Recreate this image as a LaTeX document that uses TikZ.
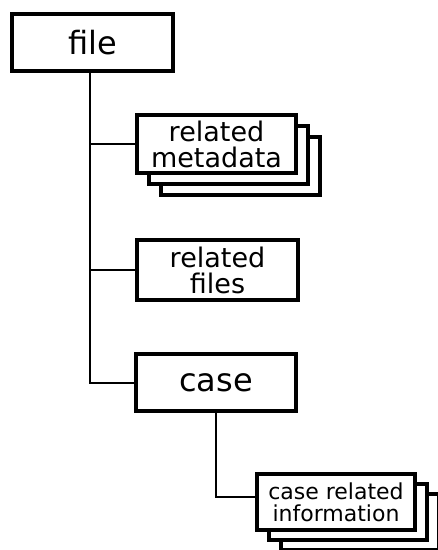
\documentclass[tikz,border=0pt]{standalone}
\usepackage{fontspec}
\setmainfont{DejaVu Sans}
\usepackage{tikz}

\begin{document}
\begin{tikzpicture}[x=1pt, y=-1pt,
		box/.style={draw, line width=4pt, fill=white, align=center, inner sep=0pt},
		link/.style={line width=2pt},
		bigtext/.style={font=\fontsize{32}{32}\selectfont},
		midtext/.style={font=\fontsize{27}{26}\selectfont},
		smalltext/.style={font=\fontsize{22}{22}\selectfont}]
		\useasboundingbox (0,0) rectangle (438,550);

		\node[box, bigtext, minimum width=161pt, minimum height=57pt] (file) at (92.5,42.5) {file};

		\node[box, minimum width=159pt, minimum height=58pt] (meta3) at (240.5,166) {};
		\node[box, minimum width=159pt, minimum height=58pt] (meta2) at (228.5,155) {};
		\node[box, midtext, minimum width=159pt, minimum height=58pt] (meta) at (216.5,144) {related\\metadata};

		\node[box, midtext, minimum width=161pt, minimum height=60pt] (files) at (217.5,270) {related\\files};

		\node[box, bigtext, minimum width=160pt, minimum height=57pt] (case) at (216,382.5) {case};

		\node[box, minimum width=158pt, minimum height=56pt] (info3) at (360,522) {};
		\node[box, minimum width=158pt, minimum height=56pt] (info2) at (348,512) {};
		\node[box, smalltext, minimum width=158pt, minimum height=56pt] (info) at (336,502) {case related\\information};

		\coordinate (trunk) at ([xshift=-2.5pt]file.south);
		\draw[link] (trunk) |- (case.west);
		\draw[link] (trunk |- meta.west) -- (meta.west);
		\draw[link] (trunk |- files.west) -- (files.west);
		\draw[link] (case.south) |- ([yshift=5pt]info.west);
	\end{tikzpicture}
\end{document}
